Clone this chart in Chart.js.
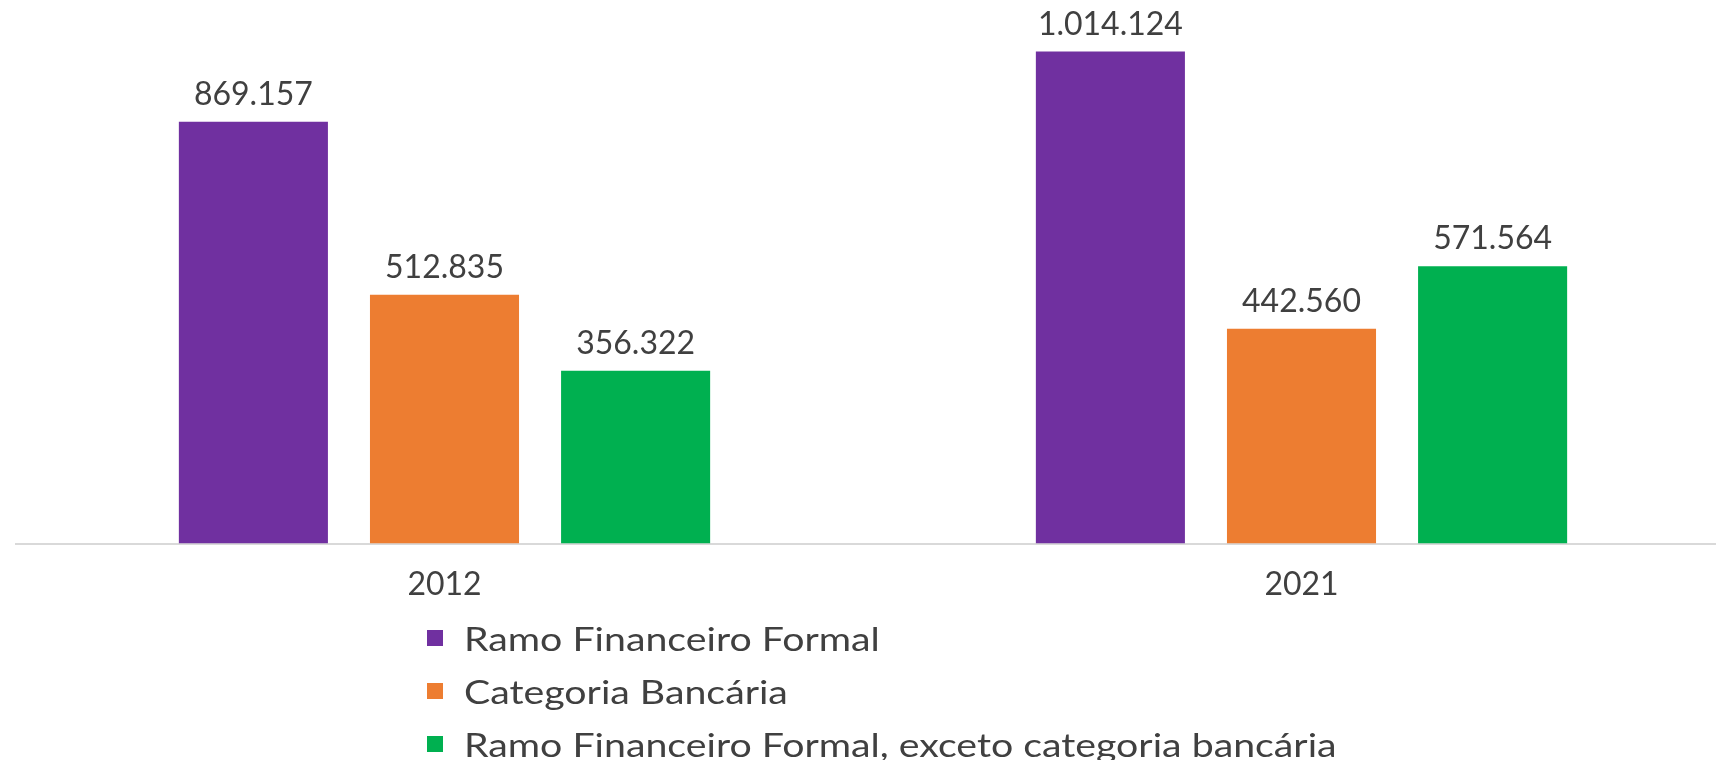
<!DOCTYPE html>
<html>
<head>
<meta charset="utf-8">
<script src="https://cdn.jsdelivr.net/npm/chart.js@4/dist/chart.umd.min.js"></script>
<style>
  html, body { margin: 0; padding: 0; background: #fff; overflow: hidden; }
  #wrap { position: relative; width: 1730px; height: 760px; }
  #legend { position: absolute; left: 427px; top: 611px; font-family: Lato, sans-serif; font-size: 33px; color: #404040; }
  #legend .item { display: flex; align-items: center; height: 53px; }
  #legend .box { width: 16px; height: 16px; margin-right: 21px; flex: none; }
  /* reference text is drawn a little wide */
  #legend .txt { display: inline-block; white-space: nowrap; transform: scaleX(1.19); transform-origin: left center; }
</style>
</head>
<body>
<div id="wrap">
  <canvas id="chart" width="1730" height="760"></canvas>
  <div id="legend"></div>
</div>
<script>
const years = ["2012", "2021"];
const seriesNames = [
  "Ramo Financeiro Formal",
  "Categoria Bancária",
  "Ramo Financeiro Formal, exceto categoria bancária",
];
const ramoFinanceiro = [869157, 1014124];
const categoriaBancaria = [512835, 442560];
const excetoBancaria = [356322, 571564];
const seriesColors = ["#7030A0", "#ED7D31", "#00B050"];

const FONT = "Lato, sans-serif";
const TEXT = "#404040";

function fmt(v) {
  return String(v).replace(/\B(?=(\d{3})+(?!\d))/g, ".");
}

// value labels above each bar
const barLabels = {
  id: "barLabels",
  afterDatasetsDraw(chart) {
    const { ctx } = chart;
    ctx.save();
    ctx.font = "32px " + FONT;
    ctx.fillStyle = TEXT;
    ctx.textAlign = "center";
    ctx.textBaseline = "middle";
    chart.data.datasets.forEach((ds, i) => {
      chart.getDatasetMeta(i).data.forEach((bar, j) => {
        ctx.fillText(fmt(ds.data[j]), bar.x, bar.y - 27);
      });
    });
    ctx.restore();
  },
};

const chart = new Chart(document.getElementById("chart"), {
  type: "bar",
  data: {
    labels: years,
    datasets: [ramoFinanceiro, categoriaBancaria, excetoBancaria].map((data, i) => ({
      label: seriesNames[i],
      data,
      backgroundColor: seriesColors[i],
      barPercentage: 0.78,
      categoryPercentage: 0.669,
    })),
  },
  options: {
    responsive: false,
    animation: false,
    layout: { padding: { top: 0, left: 16, right: 0, bottom: 134 } },
    plugins: { legend: { display: false }, tooltip: { enabled: false } },
    scales: {
      x: {
        grid: { display: false, drawTicks: false },
        border: { display: true, color: "#d9d9d9", width: 2 },
        ticks: { color: TEXT, font: { family: FONT, size: 32 }, padding: 22 },
      },
      y: { display: false, min: 0, max: 1120000 },
    },
  },
  plugins: [barLabels],
});

const legend = document.getElementById("legend");
seriesNames.forEach((name, i) => {
  const row = document.createElement("div");
  row.className = "item";
  const box = document.createElement("span");
  box.className = "box";
  box.style.background = seriesColors[i];
  const txt = document.createElement("span");
  txt.className = "txt";
  txt.textContent = name;
  row.appendChild(box);
  row.appendChild(txt);
  legend.appendChild(row);
});
</script>
</body>
</html>
